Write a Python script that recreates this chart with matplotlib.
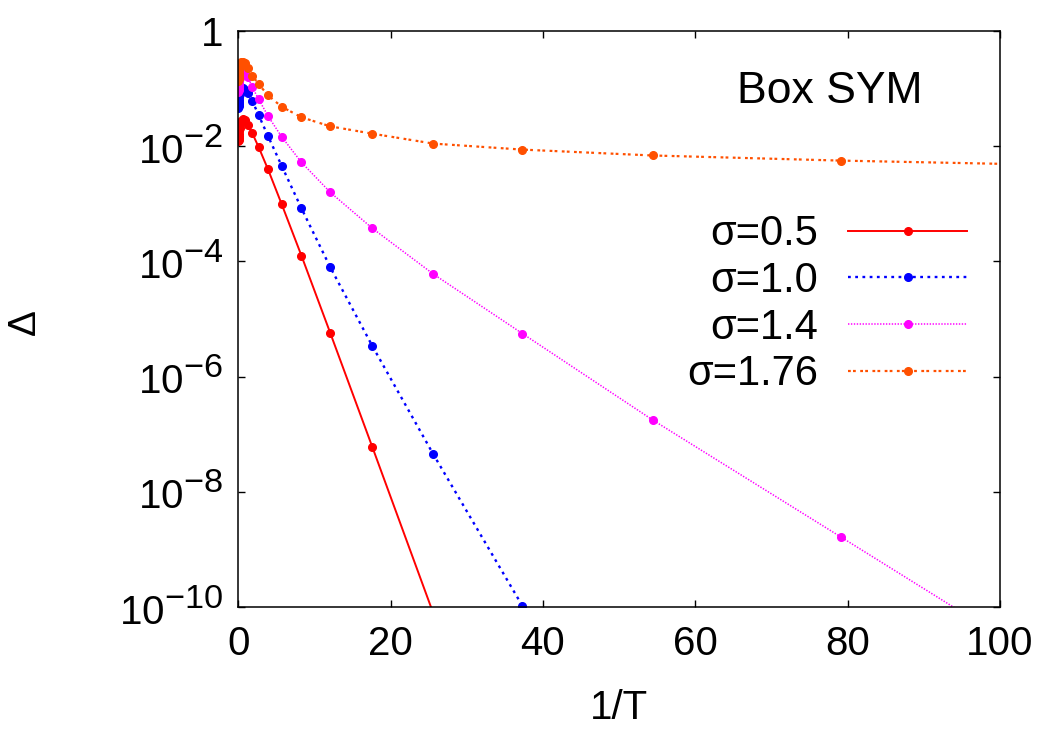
import matplotlib
matplotlib.use("Agg")
import matplotlib.pyplot as plt
from matplotlib.ticker import FixedLocator, NullLocator

try:
    import matplotlib._mathtext as _mt
    _mt.SHRINK_FACTOR = 0.85
except Exception:
    pass

plt.rcParams['font.family'] = ['Liberation Sans', 'DejaVu Sans']
plt.rcParams['mathtext.fontset'] = 'custom'
plt.rcParams['mathtext.rm'] = 'Liberation Sans'
plt.rcParams['mathtext.it'] = 'Liberation Sans:italic'
plt.rcParams['mathtext.bf'] = 'Liberation Sans:bold'
plt.rcParams['lines.scale_dashes'] = False

# ---------------- data ----------------
x_common = [0.020, 0.029, 0.043, 0.062, 0.090, 0.132, 0.192, 0.28, 0.408,
            0.594, 0.865, 1.26, 1.84, 2.68, 3.9, 5.69, 8.29, 12.08, 17.6,
            25.6, 37.3, 54.4, 79.2, 115.4]

d_s05 = [0.0121, 0.0128, 0.0138, 0.0150, 0.0166, 0.0186, 0.0210, 0.0242,
         0.0275, 0.0296, 0.0285, 0.0233, 0.0168, 0.00957, 0.00397, 9.9e-4,
         1.26e-4, 5.7e-6, 6.0e-8, 7.8e-11, 5.8e-15]
d_s10 = [0.046, 0.049, 0.053, 0.058, 0.064, 0.072, 0.081, 0.090, 0.098,
         0.101, 0.096, 0.083, 0.061, 0.0344, 0.0150, 4.58e-3, 8.35e-4,
         7.9e-5, 3.4e-6, 4.5e-8, 1.05e-10, 1.5e-14]
d_s14 = [0.088, 0.094, 0.101, 0.110, 0.121, 0.135, 0.150, 0.166, 0.180,
         0.188, 0.180, 0.157, 0.105, 0.0652, 0.0334, 0.0146, 0.00525,
         1.58e-3, 3.76e-4, 6.04e-5, 5.6e-6, 1.77e-7, 1.62e-9, 1.7e-12]
d_s176 = [0.135, 0.145, 0.157, 0.172, 0.190, 0.212, 0.237, 0.263, 0.285,
          0.295, 0.275, 0.225, 0.168, 0.119, 0.0765, 0.0485, 0.0318,
          0.0221, 0.0165, 0.0111, 0.00873, 0.0069, 0.00562, 0.0045]

series_labels = ['σ=0.5', 'σ=1.0', 'σ=1.4', 'σ=1.76']
series_values = [d_s05, d_s10, d_s14, d_s176]
series_colors = ['#ff0000', '#0000ff', '#ff00ff', '#ff5000']
series_dashes = [None, (2.0, 3.2), (1.0, 1.1), (2.0, 1.6, 2.0, 3.2)]
series_lw = [1.4, 1.7, 1.1, 1.6]

xticks = [0, 20, 40, 60, 80, 100]
yticks = [1, 1e-2, 1e-4, 1e-6, 1e-8, 1e-10]
ytick_labels = ['1', r'$\mathregular{10^{-2}}$', r'$\mathregular{10^{-4}}$',
                r'$\mathregular{10^{-6}}$', r'$\mathregular{10^{-8}}$',
                r'$\mathregular{10^{-10}}$']

# ---------------- figure ----------------
W, H = 1049, 745
fig = plt.figure(figsize=(W / 100, H / 100), dpi=100)
ax = fig.add_axes([238.3 / W, 1 - 607 / H, (999.8 - 238.3) / W, (607 - 31) / H])

for lab, vals, col, dsh, lw in zip(series_labels, series_values, series_colors,
                                   series_dashes, series_lw):
    xs = x_common[:len(vals)]
    line, = ax.plot(xs, vals, color=col, lw=lw, marker='o', ms=5.5,
                    mec=col, mfc=col, label=lab)
    if dsh is not None:
        line.set_dashes(dsh)

ax.set_yscale('log')
ax.set_xlim(0, 100)
ax.set_ylim(1e-10, 1)
ax.xaxis.set_major_locator(FixedLocator(xticks))
ax.yaxis.set_major_locator(FixedLocator(yticks))
ax.yaxis.set_minor_locator(NullLocator())
ax.set_xticklabels([str(v) for v in xticks])
ax.set_yticklabels(ytick_labels)

for s in ax.spines.values():
    s.set_linewidth(1.1)

ax.tick_params(axis='both', which='major', direction='in', length=5,
               width=1.0, labelsize=29, top=True, right=True)
ax.tick_params(axis='x', pad=13)
ax.tick_params(axis='y', pad=11)

ax.set_xlabel('1/T', fontsize=29)
ax.xaxis.set_label_coords(0.5, -0.142)
ax.set_ylabel('Δ', fontsize=28)
ax.yaxis.set_label_coords(-0.256, 0.495)

ax.text(0.777, 0.895, 'Box SYM', transform=ax.transAxes, fontsize=32,
        ha='center', va='center')

leg = ax.legend(loc='upper right', bbox_to_anchor=(0.957, 0.682),
                frameon=False, markerfirst=False, numpoints=1,
                fontsize=30, handlelength=2.85, handletextpad=0.72,
                labelspacing=0.16, borderpad=0, borderaxespad=0)

fig.savefig('out.png', dpi=100)
